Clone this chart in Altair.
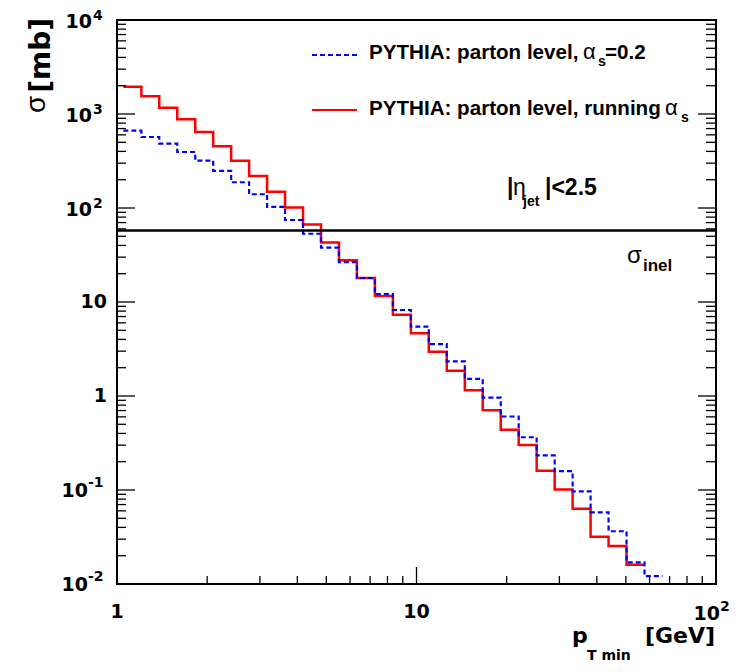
import altair as alt
import pandas as pd

# ---- data ----
# bin edges in pT_min [GeV] (log-spaced histogram bins)
edges = [1.050, 1.206, 1.384, 1.589, 1.825, 2.095, 2.405, 2.761, 3.170, 3.640,
         4.180, 4.799, 5.510, 6.325, 7.263, 8.339, 9.576, 10.99, 12.62, 14.50,
         16.64, 19.11, 21.94, 25.19, 28.93, 33.21, 38.13, 43.78, 50.27, 57.72, 66.27]

# PYTHIA parton level, running alpha_s (red, solid) [mb]
red_vals = [1951, 1543, 1167, 878, 643, 453, 319, 219, 149, 101,
            66.8, 43.0, 27.8, 18.0, 11.6, 7.33, 4.65, 2.96, 1.86, 1.15,
            0.706, 0.437, 0.301, 0.160, 0.101, 0.0633, 0.0319, 0.0254, 0.0160]

# PYTHIA parton level, alpha_s = 0.2 (blue, dashed) [mb]
blue_vals = [664, 569, 483, 394, 319, 248, 188, 140, 103, 74.5,
             53.2, 37.8, 26.5, 18.0, 12.1, 8.22, 5.46, 3.57, 2.34, 1.52,
             0.959, 0.605, 0.364, 0.234, 0.159, 0.0969, 0.0579, 0.0364, 0.0170, 0.0121]

sigma_inel = [57.6]

y_major = [1e-2, 1e-1, 1, 10, 1e2, 1e3, 1e4]
y_minor = [k * 10.0 ** d for d in range(-2, 4) for k in range(2, 10)]
x_major = [1, 10, 100]
x_minor = [k * 10.0 ** d for d in range(0, 2) for k in range(2, 10)]

y_pow_vals = [1e4, 1e3, 1e2]
y_pow_exps = ["4", "3", "2"]
y_neg_vals = [1e-1, 1e-2]
y_neg_exps = ["-1", "-2"]
y_plain_vals = [10, 1]
y_plain_text = ["10", "1"]
x_plain_vals = [1, 10]
x_plain_text = ["1", "10"]

W, H = 599, 564
xsc = alt.Scale(type="log", domain=[1, 100])
ysc = alt.Scale(type="log", domain=[0.01, 10000])
TF = "DejaVu Sans"
LF = "Liberation Sans"


def step_df(vals):
    xs = edges[: len(vals) + 1]
    ys = list(vals) + [vals[-1]]
    return pd.DataFrame({"x": xs, "y": ys, "o": list(range(len(xs)))})


def hist(vals, **kw):
    return alt.Chart(step_df(vals)).mark_line(interpolate="step-after", clip=True, **kw).encode(
        x=alt.X("x:Q", scale=xsc, axis=None),
        y=alt.Y("y:Q", scale=ysc, axis=None),
        order="o:Q",
    )


def yticks(vals, x0, x1):
    return alt.Chart(pd.DataFrame({"v": vals})).mark_rule(color="black", strokeWidth=1.3).encode(
        y=alt.Y("v:Q", scale=ysc, axis=None), x=alt.value(x0), x2=alt.value(x1))


def xticks(vals, y0, y1):
    return alt.Chart(pd.DataFrame({"v": vals})).mark_rule(color="black", strokeWidth=1.3).encode(
        x=alt.X("v:Q", scale=xsc, axis=None), y=alt.value(y0), y2=alt.value(y1))


def label(text, px, py, size, font=LF, weight="bold", align="left", baseline="alphabetic", angle=0):
    return alt.Chart(pd.DataFrame({"t": [text]})).mark_text(
        font=font, fontSize=size, fontWeight=weight, align=align, baseline=baseline,
        angle=angle, color="black").encode(text="t:N", x=alt.value(px), y=alt.value(py))


def ylabels(vals, texts, px, size, dy=0, align="right"):
    return alt.Chart(pd.DataFrame({"v": vals, "t": texts})).mark_text(
        font=TF, fontSize=size, fontWeight="bold", align=align, baseline="middle", dy=dy,
        color="black").encode(y=alt.Y("v:Q", scale=ysc, axis=None), x=alt.value(px), text="t:N")


layers = []
# histograms
layers.append(hist(red_vals, color="#ff0000", strokeWidth=2.5))
layers.append(hist(blue_vals, color="#0000ff", strokeWidth=2.2, strokeDash=[5, 3]))
# sigma_inel line
layers.append(alt.Chart(pd.DataFrame({"v": sigma_inel})).mark_rule(color="black", strokeWidth=2.5).encode(
    y=alt.Y("v:Q", scale=ysc, axis=None)))

# ticks
layers += [yticks(y_major, 0, 18), yticks(y_minor, 0, 9),
           yticks(y_major, W, W - 18), yticks(y_minor, W, W - 10),
           xticks(x_major, H, H - 17), xticks(x_minor, H, H - 8)]

# y tick labels
layers.append(ylabels(y_pow_vals, ["10"] * 3, -25, 19, dy=2))
layers.append(ylabels(y_pow_vals, y_pow_exps, -24, 14, dy=-4, align="left"))
layers.append(ylabels(y_neg_vals, ["10"] * 2, -29, 19, dy=1))
layers.append(ylabels(y_neg_vals, y_neg_exps, -29, 14, dy=-7, align="left"))
layers.append(ylabels(y_plain_vals, y_plain_text, -10, 19))

# x tick labels
layers.append(alt.Chart(pd.DataFrame({"v": x_plain_vals, "t": x_plain_text})).mark_text(
    font=TF, fontSize=19, fontWeight="bold", align="center", baseline="middle", color="black").encode(
    x=alt.X("v:Q", scale=xsc, axis=None), y=alt.value(592), text="t:N"))
layers.append(alt.Chart(pd.DataFrame({"v": [100], "t": ["10"]})).mark_text(
    font=TF, fontSize=19, fontWeight="bold", align="right", baseline="middle", dx=4, color="black").encode(
    x=alt.X("v:Q", scale=xsc, axis=None), y=alt.value(594), text="t:N"))
layers.append(alt.Chart(pd.DataFrame({"v": [100], "t": ["2"]})).mark_text(
    font=TF, fontSize=14, fontWeight="bold", align="left", baseline="middle", dx=4, color="black").encode(
    x=alt.X("v:Q", scale=xsc, axis=None), y=alt.value(587), text="t:N"))

# axis titles
layers.append(label("p", 455, 623, 22, font=TF))
layers.append(label("T min", 470, 640, 14, font=TF))
layers.append(label("[GeV]", 528, 623, 22, font=TF))
layers.append(label("[mb]", -67, -2, 28, font=TF, align="right", angle=270))
layers.append(label("σ", -72, 93, 28, font=LF, weight="normal", align="left", angle=270))

# legend
layers.append(alt.Chart(pd.DataFrame({"a": [0]})).mark_rule(color="#0000ff", strokeWidth=2, strokeDash=[5, 3]).encode(
    x=alt.value(195), x2=alt.value(240), y=alt.value(35)))
layers.append(alt.Chart(pd.DataFrame({"a": [0]})).mark_rule(color="#ff0000", strokeWidth=2).encode(
    x=alt.value(195), x2=alt.value(240), y=alt.value(90)))
layers.append(label("PYTHIA: parton level,", 252, 39, 20.6))
layers.append(label("α", 466, 39, 22, weight="normal"))
layers.append(label("s", 481, 46, 14))
layers.append(label("=0.2", 488, 39, 20.6))
layers.append(label("PYTHIA: parton level, running", 252, 95, 20.6))
layers.append(label("α", 548, 95, 22, weight="normal"))
layers.append(label("s", 564, 102, 14))

# annotations
layers.append(label("|", 390, 175, 23))
layers.append(label("η", 396, 175, 23, weight="normal"))
layers.append(label("jet", 406, 186, 14))
layers.append(label("|<2.5", 428, 175, 23))
layers.append(label("σ", 510, 243, 24, weight="normal"))
layers.append(label("inel", 526, 251, 17))

chart = alt.layer(*layers).properties(
    width=W, height=H,
    padding={"left": 109, "top": 12, "right": 14, "bottom": 80},
    autosize=alt.AutoSizeParams(type="none"),
    background="white",
).configure_view(stroke="black", strokeWidth=2)

chart.save("out.html", embed_options={"renderer": "svg", "actions": False})
